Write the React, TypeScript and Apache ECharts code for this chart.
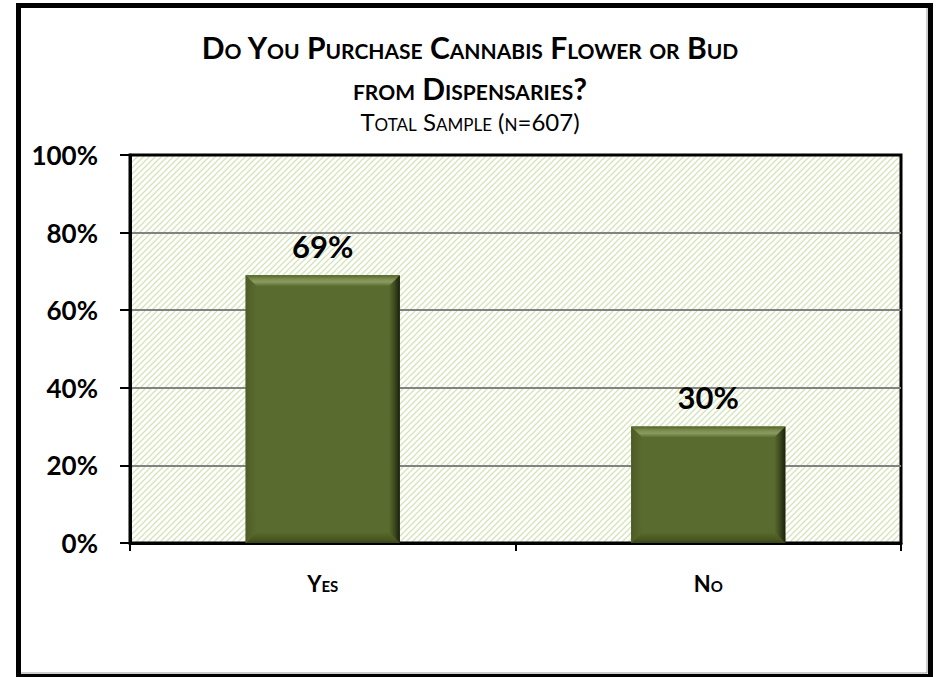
import React, { useEffect, useRef } from 'react';
import * as echarts from 'echarts';

const categories = ['Yes', 'No'];
const values = [69, 30];
const yAxisMin = 0;
const yAxisMax = 100;
const yAxisStep = 20;
const titleText = 'Do You Purchase Cannabis Flower or Bud\nfrom Dispensaries?';
const subtitleText = 'Total Sample (n=607)';

const FONT = 'Lato';
const BAR = '#5a6b2f';

function hatchPattern() {
  const s = 6;
  const c = document.createElement('canvas');
  c.width = s;
  c.height = s;
  const ctx = c.getContext('2d')!;
  ctx.fillStyle = '#ffffff';
  ctx.fillRect(0, 0, s, s);
  ctx.strokeStyle = '#d3e2b7';
  ctx.lineWidth = 1.25;
  ctx.beginPath();
  ctx.moveTo(-1, s + 1);
  ctx.lineTo(s + 1, -1);
  ctx.moveTo(-s - 1, s + 1);
  ctx.lineTo(s + 1, -s - 1);
  ctx.moveTo(-1, 2 * s + 1);
  ctx.lineTo(2 * s + 1, -1);
  ctx.stroke();
  return { image: c.toDataURL(), repeat: 'repeat', imageWidth: s, imageHeight: s };
}

export default function App() {
  const ref = useRef<HTMLDivElement>(null);
  useEffect(() => {
    const chart = echarts.init(ref.current!, null, { renderer: 'svg' });
    const G = echarts.graphic;
    const renderBevel = (params: any, api: any) => {
      const top = api.coord([api.value(0), api.value(1)]);
      const base = api.coord([api.value(0), 0]);
      const bw = api.size([1, 0])[0] * 0.4;
      const x0 = top[0] - bw / 2;
      const x1 = top[0] + bw / 2;
      const y0 = top[1];
      const y1 = base[1];
      const b = 11;
      return {
        type: 'group',
        children: [
          {
            type: 'polygon',
            shape: { points: [[x0, y0], [x1, y0], [x1 - b, y0 + b], [x0 + b, y0 + b]] },
            style: {
              fill: new G.LinearGradient(0, 0, 0, 1, [
                { offset: 0, color: '#566629' },
                { offset: 0.35, color: '#7c8d50' },
                { offset: 0.6, color: '#8b9b61' },
                { offset: 1, color: BAR },
              ]),
            },
          },
          {
            type: 'polygon',
            shape: { points: [[x0, y1], [x1, y1], [x1 - b, y1 - b], [x0 + b, y1 - b]] },
            style: {
              fill: new G.LinearGradient(0, 0, 0, 1, [
                { offset: 0, color: BAR },
                { offset: 0.7, color: '#48561f' },
                { offset: 1, color: '#38431a' },
              ]),
            },
          },
          {
            type: 'polygon',
            shape: { points: [[x0, y0], [x0 + b, y0 + b], [x0 + b, y1 - b], [x0, y1]] },
            style: {
              fill: new G.LinearGradient(0, 0, 1, 0, [
                { offset: 0, color: '#4d5c26' },
                { offset: 1, color: BAR },
              ]),
            },
          },
          {
            type: 'polygon',
            shape: { points: [[x1, y0], [x1, y1], [x1 - b, y1 - b], [x1 - b, y0 + b]] },
            style: {
              fill: new G.LinearGradient(0, 0, 1, 0, [
                { offset: 0, color: BAR },
                { offset: 0.5, color: '#3e4a1f' },
                { offset: 1, color: '#1a200e' },
              ]),
            },
          },
        ],
      };
    };

    chart.setOption({
      animation: false,
      backgroundColor: '#ffffff',
      title: {
        text: titleText,
        subtext: subtitleText,
        left: 'center',
        top: 26,
        padding: 0,
        itemGap: 0,
        textStyle: { fontFamily: FONT, fontWeight: 'bold', fontSize: 30, lineHeight: 41, color: '#000' },
        subtextStyle: { fontFamily: FONT, fontWeight: 'normal', fontSize: 24, lineHeight: 26, color: '#000' },
      },
      grid: {
        left: 130,
        right: 39,
        top: 155,
        bottom: 134,
        show: true,
        backgroundColor: hatchPattern(),
        borderColor: '#000',
        borderWidth: 3,
        outerBoundsMode: 'none',
        containLabel: false,
      },
      xAxis: {
        type: 'category',
        data: categories,
        axisLine: { show: true, lineStyle: { color: '#000', width: 3 } },
        axisTick: { show: true, length: 8, lineStyle: { color: '#000', width: 2 } },
        axisLabel: { margin: 29, fontFamily: FONT, fontWeight: 'bold', fontSize: 22, color: '#000' },
        splitLine: { show: false },
      },
      yAxis: {
        type: 'value',
        min: yAxisMin,
        max: yAxisMax,
        interval: yAxisStep,
        axisLine: { show: true, lineStyle: { color: '#000', width: 3 } },
        axisTick: { show: true, length: 10, lineStyle: { color: '#000', width: 2 } },
        axisLabel: {
          formatter: '{value}%',
          margin: 32,
          fontFamily: FONT,
          fontWeight: 'bold',
          fontSize: 26,
          color: '#000',
        },
        splitLine: {
          show: true,
          showMinLine: false,
          showMaxLine: false,
          lineStyle: { color: '#828282', width: 2 },
        },
      },
      series: [
        {
          type: 'bar',
          data: values,
          barWidth: '40%',
          itemStyle: { color: BAR },
          label: {
            show: true,
            position: 'top',
            distance: 14,
            formatter: '{c}%',
            fontFamily: FONT,
            fontWeight: 'bold',
            fontSize: 31,
            color: '#000',
          },
          z: 2,
        },
        {
          type: 'custom',
          data: categories.map((c, i) => [i, values[i]]),
          renderItem: renderBevel,
          silent: true,
          z: 3,
        },
      ],
      graphic: [
        {
          type: 'rect',
          shape: { x: 18.5, y: 5.5, width: 912, height: 671 },
          style: { fill: 'none', stroke: '#000', lineWidth: 5 },
          z: 10,
        },
        {
          type: 'polyline',
          shape: { points: [[927, 8], [927, 673], [21, 673]] },
          style: { fill: 'none', stroke: '#9a9a9a', lineWidth: 1 },
          z: 10,
        },
      ],
    });
    return () => chart.dispose();
  }, []);
  return (
    <>
      <style>{`body{margin:0}.chartbox svg text{font-variant:small-caps !important;}`}</style>
      <div
        ref={ref}
        className="chartbox"
        style={{ position: 'absolute', left: 0, top: 0, width: 940, height: 677, background: '#fff' }}
      />
    </>
  );
}
